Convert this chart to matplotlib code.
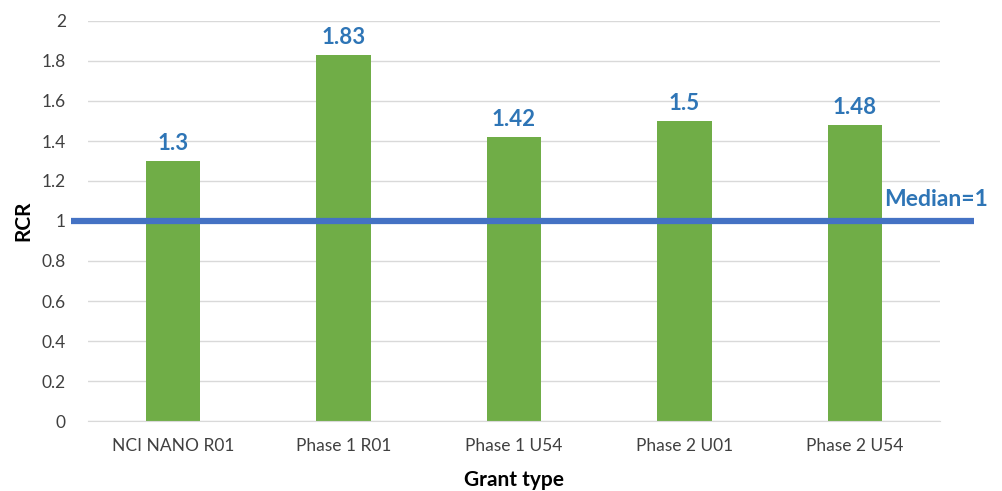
import matplotlib
matplotlib.use("Agg")
import matplotlib.pyplot as plt

categories = ["NCI NANO R01", "Phase 1 R01", "Phase 1 U54", "Phase 2 U01", "Phase 2 U54"]
rcr_values = [1.3, 1.83, 1.42, 1.5, 1.48]
value_labels = ["1.3", "1.83", "1.42", "1.5", "1.48"]
median_value = 1
y_ticks = [0, 0.2, 0.4, 0.6, 0.8, 1, 1.2, 1.4, 1.6, 1.8, 2]
y_tick_labels = ["0", "0.2", "0.4", "0.6", "0.8", "1", "1.2", "1.4", "1.6", "1.8", "2"]

plt.rcParams["font.family"] = ["Lato", "DejaVu Sans"]

fig = plt.figure(figsize=(10.03, 4.91), dpi=100)
ax = fig.add_axes([88 / 1003, 1 - 421 / 491, 852 / 1003, 400 / 491])

x = list(range(len(categories)))
bars = ax.bar(x, rcr_values, width=0.32, color="#70AD47", zorder=2)

for xi, v, lab in zip(x, rcr_values, value_labels):
    ax.annotate(lab, (xi, v), xytext=(0, 5), textcoords="offset points",
                ha="center", va="bottom", fontsize=16, fontweight="bold",
                color="#2E75B6")

ax.set_xlim(-0.5, len(categories) - 0.5)
ax.set_ylim(0, 2)
ax.set_yticks(y_ticks)
ax.set_yticklabels(y_tick_labels)
ax.set_xticks(x)
ax.set_xticklabels(categories)
ax.tick_params(axis="both", length=0, labelsize=12.5, colors="#404040")
ax.tick_params(axis="y", pad=16)
ax.tick_params(axis="x", pad=12)

ax.grid(axis="y", color="#D9D9D9", linewidth=1, zorder=0)
ax.set_axisbelow(True)
for side in ["top", "right", "left"]:
    ax.spines[side].set_visible(False)
ax.spines["bottom"].set_color("#D9D9D9")

# median reference line, extending a little past both edges of the plot area
ax.plot([-0.6, 4.7], [median_value, median_value], color="#4472C4",
        linewidth=4.5, zorder=3, clip_on=False, solid_capstyle="butt")
ax.text(4.17, median_value + 0.055, f"Median={median_value}", ha="left",
        va="bottom", fontsize=16.5, fontweight="bold", color="#2E75B6")

ax.set_ylabel("RCR", fontsize=15, fontweight="bold", color="#000000", labelpad=6)
ax.set_xlabel("Grant type", fontsize=15, fontweight="bold", color="#000000", labelpad=12)

fig.savefig("out.png", dpi=100)
